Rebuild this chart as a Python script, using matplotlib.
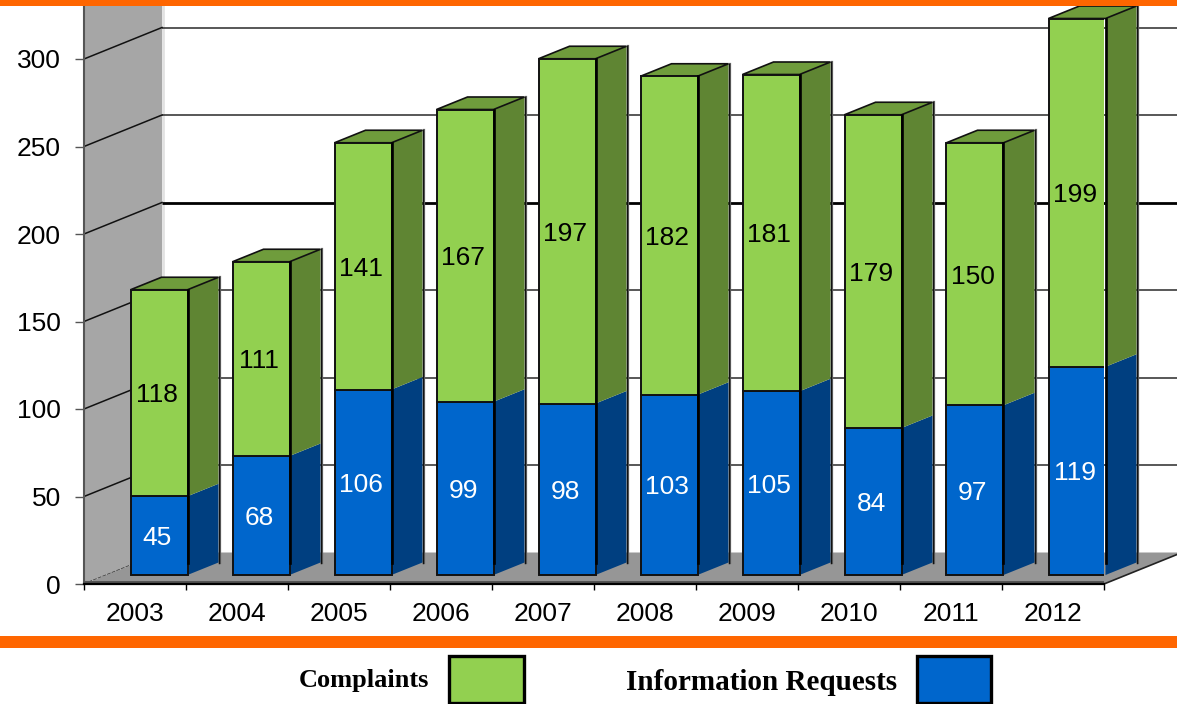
import matplotlib
matplotlib.use("Agg")
import matplotlib.pyplot as plt
from matplotlib.patches import Polygon, Rectangle

years = ["2003", "2004", "2005", "2006", "2007", "2008", "2009", "2010", "2011", "2012"]
requests = [45, 68, 106, 99, 98, 103, 105, 84, 97, 119]
complaints = [118, 111, 141, 167, 197, 182, 181, 179, 150, 199]
y_ticks = [0, 50, 100, 150, 200, 250, 300]

W, H = 1177, 704
fig = plt.figure(figsize=(W / 100, H / 100), dpi=100, facecolor="white")
PX = 102.0     # pixels per category
PY = 1.75      # pixels per unit
ax = fig.add_axes([84 / W, (H - 584) / H, 1020 / W, 584 / H])
ax.set_xlim(-0.5, 9.5)
ax.set_ylim(0, 584 / PY)
ax.patch.set_visible(False)

# projection of the pseudo 3D scene
WALL_DX, WALL_DY = 78 / PX, 31.5 / PY
BAR_DX, BAR_DY = 31 / PX, 12.5 / PY
BAR_W = 57 / PX
BAR_SHIFT = 24 / PX
BASE = 9 / PY

GREEN, GREEN_TOP, GREEN_SIDE = "#92D050", "#6F9C3C", "#5F8533"
BLUE, BLUE_SIDE = "#0066CC", "#003F80"
WALL, FLOOR = "#A6A6A6", "#969696"
FONT = "Liberation Sans"
FS = 19

x0, x1 = -0.5, 9.5
ytop = 584 / PY

# wall
ax.add_patch(Polygon([(x0, 0), (x0 + WALL_DX, WALL_DY), (x0 + WALL_DX, ytop), (x0, ytop)],
                     fc=WALL, ec="none", zorder=1, clip_on=False))
ax.plot([x0 + WALL_DX + 1 / PX] * 2, [WALL_DY, ytop], color="#E2E2E2", lw=2, zorder=1, clip_on=False)

# grid on back wall and side wall
for t in y_ticks[1:]:
    lw = 2.0 if t == 200 else 1.1
    col = "#000000" if t == 200 else "#2A2A2A"
    ax.plot([x0 + WALL_DX, x1 + WALL_DX], [t + WALL_DY] * 2, color=col, lw=lw, zorder=1.2,
            clip_on=False, solid_capstyle="butt")
    ax.plot([x0, x0 + WALL_DX], [t, t + WALL_DY], color="#111111", lw=1.1, zorder=1.2, clip_on=False)
ax.plot([x0, x0 + WALL_DX], [0, WALL_DY], color="#333333", lw=0.9, ls=(0, (3, 1)), zorder=1.2, clip_on=False)

# floor
ax.add_patch(Polygon([(x0, 0), (x1, 0), (x1 + WALL_DX, WALL_DY), (x0 + WALL_DX, WALL_DY)],
                     fc=FLOOR, ec="none", zorder=1.5, clip_on=False))
ax.plot([x1, x1 + WALL_DX], [0, WALL_DY], color="#222222", lw=1.2, zorder=1.6, clip_on=False)
ax.plot([x0, x1], [1.2, 1.2], color="#555555", lw=2.2, zorder=1.6, solid_capstyle="butt")

# bars
xs = [i + BAR_SHIFT for i in range(len(years))]
bottoms = [BASE] * len(years)
tops_req = [BASE + v for v in requests]
ax.bar(xs, requests, BAR_W, bottom=bottoms, color=BLUE, edgecolor="#111111", linewidth=1.4, zorder=3)
ax.bar(xs, complaints, BAR_W, bottom=tops_req, color=GREEN, edgecolor="#111111", linewidth=1.4, zorder=3)

for x, r, c in zip(xs, requests, complaints):
    xr = x + BAR_W / 2
    xl = x - BAR_W / 2
    ym = BASE + r
    yt = ym + c
    ax.add_patch(Polygon([(xr, BASE), (xr + BAR_DX, BASE + BAR_DY), (xr + BAR_DX, ym + BAR_DY), (xr, ym)],
                         fc=BLUE_SIDE, ec="none", zorder=2.8, clip_on=False))
    ax.add_patch(Polygon([(xr, ym), (xr + BAR_DX, ym + BAR_DY), (xr + BAR_DX, yt + BAR_DY), (xr, yt)],
                         fc=GREEN_SIDE, ec="none", zorder=2.8, clip_on=False))
    ax.add_patch(Polygon([(xl, yt), (xr, yt), (xr + BAR_DX, yt + BAR_DY), (xl + BAR_DX, yt + BAR_DY)],
                         fc=GREEN_TOP, ec="#111111", lw=1.2, zorder=2.9, clip_on=False))
    ax.plot([xr + BAR_DX + 1 / PX] * 2, [BASE + BAR_DY, yt + BAR_DY], color="#666666", lw=1.6, zorder=2.7, clip_on=False)
    ax.plot([xr + BAR_DX] * 2, [BASE + BAR_DY, yt + BAR_DY], color="#111111", lw=1.0, zorder=2.85, clip_on=False)
    ax.plot([xr] * 2, [BASE + BAR_DY, yt], color="#000000", lw=1.9, zorder=3.1, clip_on=False)
    ax.text(x - 2 / PX, BASE + r / 2, str(r), color="white", ha="center", va="center_baseline",
            fontsize=FS, family=FONT, zorder=4)
    ax.text(x - 2 / PX, ym + c / 2, str(c), color="black", ha="center", va="center_baseline",
            fontsize=FS, family=FONT, zorder=4)

# axes decoration
for s in ("top", "right"):
    ax.spines[s].set_visible(False)
ax.spines["left"].set_color("#555555")
ax.spines["left"].set_linewidth(1.5)
ax.spines["left"].set_zorder(2)
ax.spines["bottom"].set_color("black")
ax.spines["bottom"].set_linewidth(1.6)
ax.spines["bottom"].set_zorder(2)
ax.set_yticks(y_ticks)
ax.set_yticklabels([str(t) for t in y_ticks], family=FONT, fontsize=FS)
ax.tick_params(axis="y", length=6.5, width=1, color="#555555", pad=10)
ax.set_xticks([i - 0.5 for i in range(len(years) + 1)])
ax.set_xticklabels([""] * (len(years) + 1))
ax.tick_params(axis="x", which="major", length=4.5, width=1, color="black")
ax.set_xticks(range(len(years)), minor=True)
ax.set_xticklabels(years, minor=True, family=FONT, fontsize=FS)
ax.tick_params(axis="x", which="minor", length=0, pad=13)

# page bands
def px_rect(x, y, w, h, **kw):
    return Rectangle((x / W, 1 - (y + h) / H), w / W, h / H, transform=fig.transFigure, **kw)

fig.add_artist(px_rect(0, 0, W, 6, fc="#FF6600", ec="none", zorder=10))
fig.add_artist(px_rect(0, 636, W, 12, fc="#FF6600", ec="none", zorder=10))

# legend
fig.add_artist(px_rect(449, 656, 75, 47, fc=GREEN, ec="black", lw=2.4, zorder=10))
fig.add_artist(px_rect(917, 656, 74, 47, fc=BLUE, ec="black", lw=2.4, zorder=10))
fig.text(363.5 / W, 1 - 680.5 / H, "Complaints", family="Liberation Serif", weight="bold",
         fontsize=19, ha="center", va="center", zorder=10)
fig.text(762 / W, 1 - 682 / H, "Information Requests", family="Liberation Serif", weight="bold",
         fontsize=21, ha="center", va="center", zorder=10)

fig.savefig("out.png", dpi=100)
